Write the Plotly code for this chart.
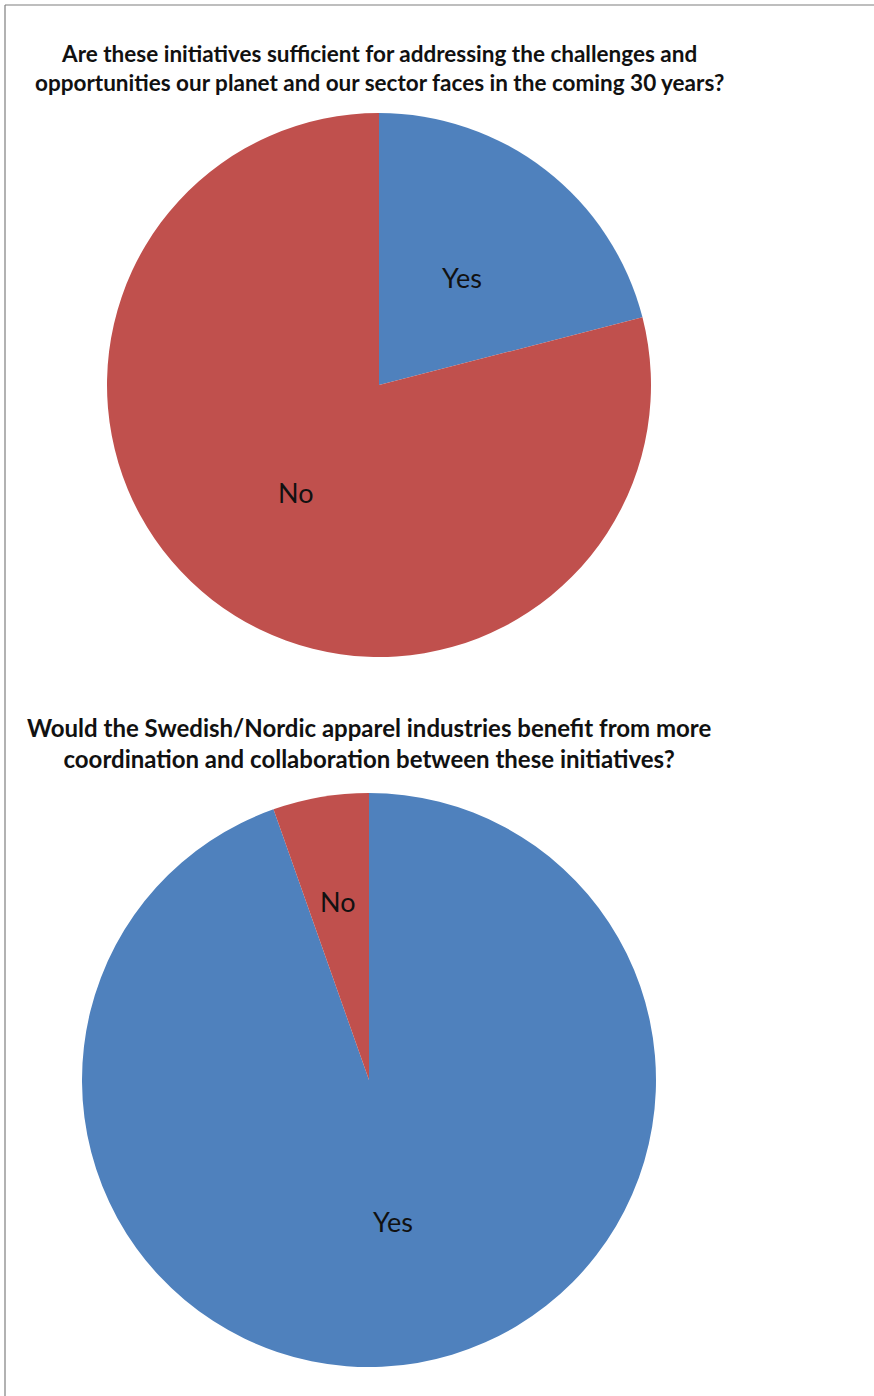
import math
import plotly.graph_objects as go

labels = ["Yes", "No"]
q1_values = [21, 79]
q2_values = [94.6, 5.4]
colors = ["#4F81BD", "#C0504D"]

q1_title = "<b>Are these initiatives sufficient for addressing the challenges and<br>opportunities our planet and our sector faces in the coming 30 years?</b>"
q2_title = "<b>Would the Swedish/Nordic apparel industries benefit from more<br>coordination and collaboration between these initiatives?</b>"

W, H = 874, 1396

# pie geometry (pixels): center x, center y, radius, label radius fractions
pies = [
    (q1_values, 379, 385, 272, [0.5, 0.5]),
    (q2_values, 369, 1080, 287, [0.5, 0.63]),
]

fig = go.Figure()
for values, cx, cy, r, lr in pies:
    fig.add_trace(go.Pie(
        labels=labels, values=values, sort=False, direction="clockwise", rotation=0,
        marker=dict(colors=colors, line=dict(width=0)),
        textinfo="none",
        domain=dict(x=[(cx - r) / W, (cx + r) / W], y=[1 - (cy + r) / H, 1 - (cy - r) / H]),
        showlegend=False, hoverinfo="label+percent",
    ))
    total = sum(values)
    start = 0.0
    for lab, v, f in zip(labels, values, lr):
        mid = (start + v / 2) / total * 2 * math.pi
        start += v
        px = cx + f * r * math.sin(mid)
        py = cy - f * r * math.cos(mid)
        fig.add_annotation(text=lab, x=px / W, y=1 - py / H, xref="paper", yref="paper",
                           xanchor="center", yanchor="middle", showarrow=False,
                           font=dict(family="Lato", size=27, color="#111111"))

fig.add_annotation(text=q1_title, x=379 / W, y=1 - 68 / H, xref="paper", yref="paper",
                   xanchor="center", yanchor="middle", showarrow=False,
                   font=dict(family="Lato", size=22.5, color="#111111"))
fig.add_annotation(text=q2_title, x=369 / W, y=1 - 743 / H, xref="paper", yref="paper",
                   xanchor="center", yanchor="middle", showarrow=False,
                   font=dict(family="Lato", size=24, color="#111111"))

# frame lines
fig.add_shape(type="line", xref="paper", yref="paper", x0=5 / W, x1=1, y0=1 - 5 / H, y1=1 - 5 / H,
              line=dict(color="#7f7f7f", width=1.2))
fig.add_shape(type="line", xref="paper", yref="paper", x0=5 / W, x1=5 / W, y0=0, y1=1 - 5 / H,
              line=dict(color="#7f7f7f", width=1.2))

fig.update_layout(width=W, height=H, margin=dict(l=0, r=0, t=0, b=0),
                  paper_bgcolor="white", plot_bgcolor="white")

fig.write_html("out.html")
